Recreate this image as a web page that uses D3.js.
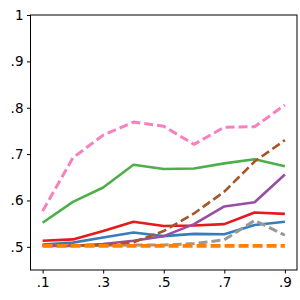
<!DOCTYPE html>
<html>
<head>
<meta charset="utf-8">
<script src="https://cdn.jsdelivr.net/npm/d3@7"></script>
<style>
  body { margin: 0; background: #fff; }
  svg { display: block; }
  .tick text { font-family: "DejaVu Sans", sans-serif; font-size: 13.5px; fill: #000; }
</style>
</head>
<body>
<div id="chart"></div>
<script>
var xs = [0.1, 0.2, 0.3, 0.4, 0.5, 0.6, 0.7, 0.8, 0.9];
var xTicks = [0.1, 0.3, 0.5, 0.7, 0.9];
var yTicks = [0.5, 0.6, 0.7, 0.8, 0.9, 1.0];

var red    = [0.513, 0.516, 0.534, 0.554, 0.545, 0.546, 0.549, 0.574, 0.571];
var blue   = [0.505, 0.509, 0.520, 0.531, 0.523, 0.528, 0.527, 0.547, 0.554];
var green  = [0.552, 0.597, 0.628, 0.677, 0.668, 0.669, 0.680, 0.689, 0.674];
var purple = [0.502, 0.502, 0.506, 0.513, 0.523, 0.549, 0.587, 0.596, 0.656];
var gray   = [0.503, 0.503, 0.503, 0.504, 0.504, 0.507, 0.515, 0.557, 0.525];
var brown  = [0.503, 0.503, 0.504, 0.510, 0.534, 0.572, 0.619, 0.684, 0.730];
var pink   = [0.577, 0.692, 0.741, 0.769, 0.760, 0.721, 0.758, 0.759, 0.806];
var orange = [0.502, 0.502, 0.502, 0.502, 0.502, 0.502, 0.502, 0.502, 0.502];

var series = [
    {values: red, color: "#e41a1c", dash: null, w: 2.6},
    {values: blue, color: "#377eb8", dash: null, w: 2.6},
    {values: green, color: "#4daf4a", dash: null, w: 2.6},
    {values: purple, color: "#984ea3", dash: null, w: 2.6},
    {values: gray, color: "#999999", dash: "9,4", w: 3},
    {values: brown, color: "#a65628", dash: "9,4", w: 2.6},
    {values: pink, color: "#f781bf", dash: "9,4", w: 3},
    {values: orange, color: "#ff7f00", dash: "10,4", w: 3.8}
];

var width = 300, height = 300;
var margin = {left: 30.5, right: 3, top: 15, bottom: 30};

var svg = d3.select("#chart").append("svg")
    .attr("width", width)
    .attr("height", height);

var x = d3.scaleLinear()
    .domain([0.06, 0.94])
    .range([margin.left, width - margin.right]);

var y = d3.scaleLinear()
    .domain([0.45, 1.0])
    .range([height - margin.bottom, margin.top]);

var fmt = function(d) {
    if (d === 1) return "1";
    return d3.format(".1f")(d).replace(/^0/, "");
};

var line = d3.line()
    .x(function(d, i) { return x(xs[i]); })
    .y(function(d) { return y(d); });

svg.append("defs").append("clipPath").attr("id", "clip")
    .append("rect")
    .attr("x", margin.left).attr("y", margin.top)
    .attr("width", width - margin.left - margin.right)
    .attr("height", height - margin.top - margin.bottom);

var g = svg.append("g").attr("clip-path", "url(#clip)");

series.forEach(function(s) {
    g.append("path")
        .datum(s.values)
        .attr("d", line)
        .attr("fill", "none")
        .attr("stroke", s.color)
        .attr("stroke-width", s.w)
        .attr("stroke-dasharray", s.dash)
        .attr("stroke-linejoin", "round");
});

// frame
svg.append("rect")
    .attr("x", margin.left)
    .attr("y", margin.top)
    .attr("width", width - margin.left - margin.right)
    .attr("height", height - margin.top - margin.bottom)
    .attr("fill", "none")
    .attr("stroke", "#000")
    .attr("stroke-width", 1);

var xAxis = svg.append("g")
    .attr("transform", "translate(0," + (height - margin.bottom) + ")")
    .call(d3.axisBottom(x).tickValues(xTicks).tickFormat(fmt).tickSize(3.5).tickPadding(3.5));

var yAxis = svg.append("g")
    .attr("transform", "translate(" + margin.left + ",0)")
    .call(d3.axisLeft(y).tickValues(yTicks).tickFormat(fmt).tickSize(3.5).tickPadding(3.5));

[xAxis, yAxis].forEach(function(a) {
    a.select(".domain").remove();
    a.selectAll(".tick line").attr("stroke", "#000");
});
</script>
</body>
</html>
